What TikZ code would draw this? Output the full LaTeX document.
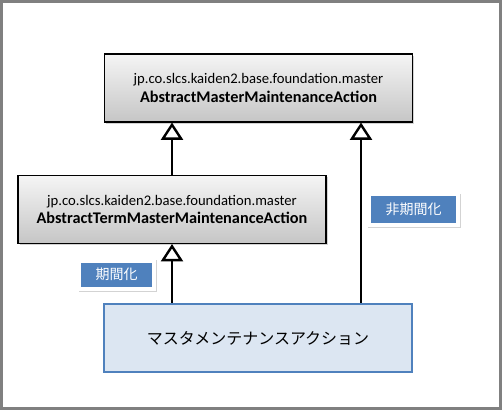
\documentclass[tikz,border=0pt]{standalone}
\usepackage{fontspec}
\setmainfont{Carlito}
\newfontfamily\jpfont{Noto Sans CJK JP}
\usetikzlibrary{arrows.meta, shadows}

\definecolor{frameblue}{HTML}{4F81BD}
\definecolor{paleblue}{HTML}{DCE6F2}

\begin{document}
\begin{tikzpicture}[x=0.75pt,y=-0.75pt,
    classbox/.style={draw=black, line width=0.8pt, top color=gray!8, bottom color=gray!45,
      minimum width=231pt, minimum height=51pt, align=center, font=\fontsize{11}{14}\selectfont,
      drop shadow={shadow xshift=1.2pt, shadow yshift=-1.2pt, opacity=.35}},
    actionbox/.style={draw=frameblue, fill=paleblue, line width=2pt,
      minimum width=231pt, minimum height=51pt, font=\jpfont\fontsize{12}{14}\selectfont},
    tagframe/.style={fill=white, inner sep=0pt,
      drop shadow={shadow xshift=1pt, shadow yshift=-1pt, opacity=.35}},
    tagbox/.style={fill=frameblue, text=white, inner sep=0pt, font=\jpfont\fontsize{10.5}{12}\selectfont},
    inherit/.style={line width=1.5pt, -{Triangle[open, width=16.5pt, length=13pt, line width=1.8pt]}}]
% Outer frame fixes the size of the picture
\useasboundingbox (0,0) rectangle (502,410);
\draw[gray, line width=2.25pt] (1.5,1.5) rectangle (500.5,408.5);
% The three classes
\node[classbox] (master) at (258.5,88) {jp.co.slcs.kaiden2.base.foundation.master\\
  {\fontsize{12.2}{14}\selectfont\textbf{AbstractMasterMaintenanceAction}}};
\node[classbox] (term) at (172,209.5) {jp.co.slcs.kaiden2.base.foundation.master\\
  {\fontsize{12.2}{14}\selectfont\textbf{AbstractTermMasterMaintenanceAction}}};
\node[actionbox] (action) at (258,338) {マスタメンテナンスアクション};
% Column of the right-hand connector
\coordinate (rcol) at (361,200);
% Inheritance connectors
\draw[inherit] (action.north -| term) -- (term.south);
\draw[inherit] (term.north) -- (term.north |- master.south);
\draw[inherit] (action.north -| rcol) -- (master.south -| rcol);
% Tags on the connectors
\node[tagframe, minimum width=58.5pt, minimum height=24pt] (termframe) at (116.5,274.5) {};
\node[tagbox, minimum width=53.25pt, minimum height=18pt] (termtag) at (termframe) {期間化};
\node[tagframe, minimum width=69.75pt, minimum height=25.5pt] (plainframe) at (413.5,209.5) {};
\node[tagbox, minimum width=63.75pt, minimum height=20pt] (plaintag) at (plainframe) {非期間化};
\end{tikzpicture}
\end{document}
